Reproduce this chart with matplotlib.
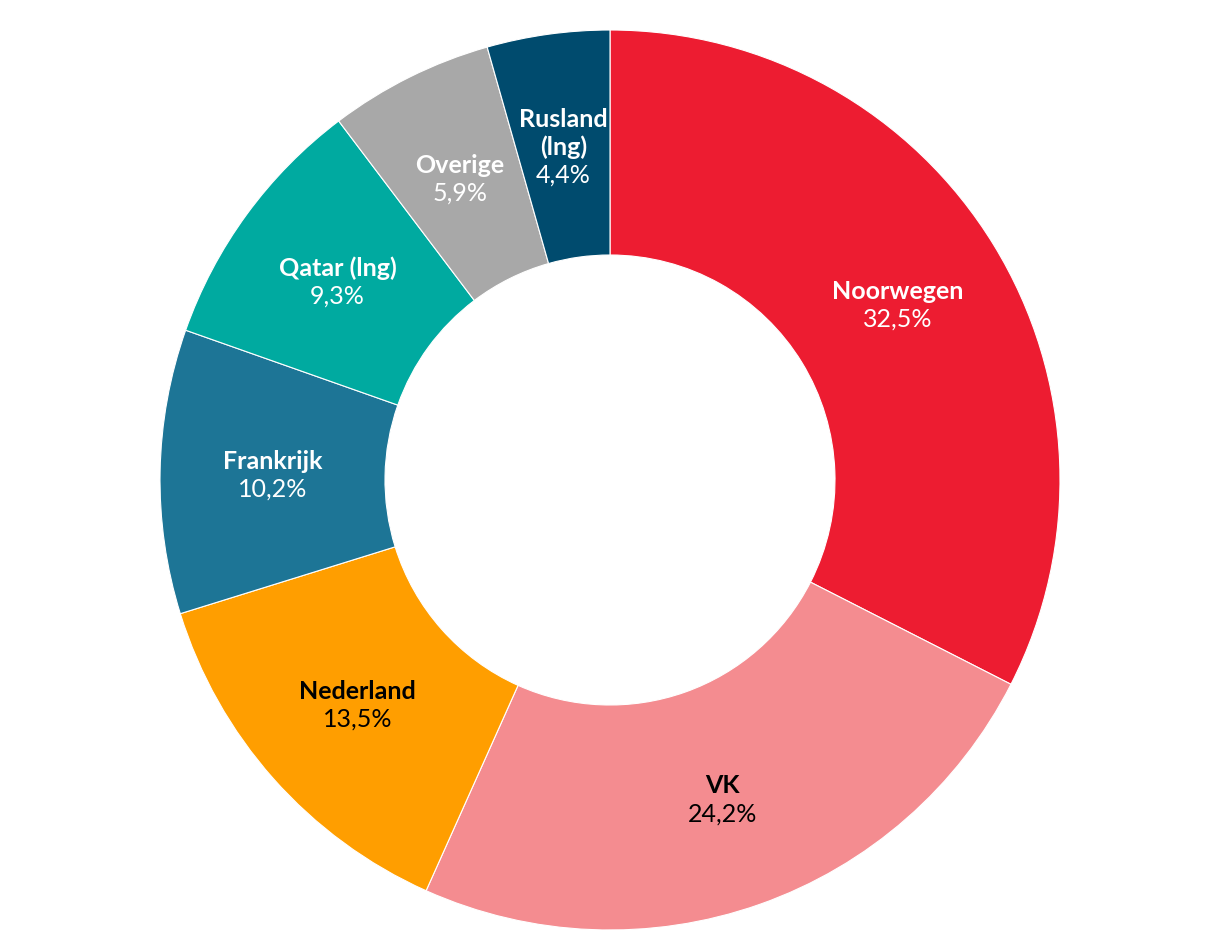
import numpy as np
import matplotlib.pyplot as plt

# Herkomst aardgas (aandeel in %)
landen = ['Noorwegen', 'VK', 'Nederland', 'Frankrijk', 'Qatar (lng)', 'Overige', 'Rusland\n(lng)']
aandeel = [32.5, 24.2, 13.5, 10.2, 9.3, 5.9, 4.4]
kleuren = ['#ED1C31', '#F48C90', '#FF9E00', '#1D7596', '#00AAA0', '#A8A8A8', '#004B6E']
tekstkleur = ['white', 'black', 'black', 'white', 'white', 'white', 'white']

fig = plt.figure(figsize=(12.2, 9.4), dpi=100)
ax = fig.add_axes([160 / 1220, 10 / 940, 900 / 1220, 900 / 940])

wedges, _ = ax.pie(aandeel, colors=kleuren, startangle=90, counterclock=False,
                   radius=1.0, wedgeprops=dict(width=0.5, edgecolor='white', linewidth=0.8))
ax.set_xlim(-1, 1)
ax.set_ylim(-1, 1)
ax.set_aspect('equal')
ax.axis('off')

for w, naam, pct, kl in zip(wedges, landen, aandeel, tekstkleur):
    hoek = np.deg2rad((w.theta1 + w.theta2) / 2)
    x, y = 0.75 * np.cos(hoek), 0.75 * np.sin(hoek)
    regels = naam.split('\n')
    pct_txt = f'{pct:.1f}%'.replace('.', ',')
    # elke regel 28 px onder de vorige, blok gecentreerd op het label-punt
    for k, regel in enumerate(regels + [pct_txt]):
        vet = 'bold' if k < len(regels) else 'normal'
        ax.annotate(regel, (x, y), xytext=(0, 14 * len(regels) - 28 * k - 9),
                    textcoords='offset pixels', ha='center', va='baseline', color=kl,
                    fontsize=18, fontweight=vet, family='Lato')

fig.savefig('out.png', dpi=100)
